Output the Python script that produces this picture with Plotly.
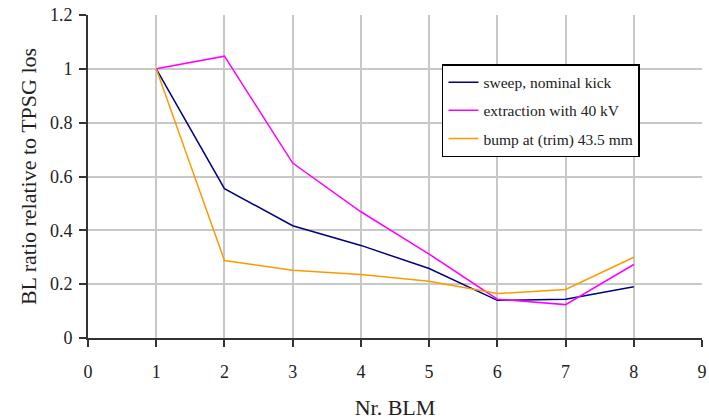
import plotly.graph_objects as go

blm = [1, 2, 3, 4, 5, 6, 7, 8]
sweep_nominal = [1.0, 0.555, 0.417, 0.344, 0.258, 0.140, 0.144, 0.190]
extraction_40kv = [1.0, 1.047, 0.650, 0.469, 0.312, 0.144, 0.124, 0.273]
bump_trim = [1.0, 0.288, 0.252, 0.236, 0.211, 0.165, 0.180, 0.300]

names = ["sweep, nominal kick", "extraction with 40 kV", "bump at (trim) 43.5 mm"]
colors = ["#000080", "#FF00FF", "#FF9900"]
series = [sweep_nominal, extraction_40kv, bump_trim]

FONT = "Liberation Serif"

fig = go.Figure()
for i, (nm, col, ys) in enumerate(zip(names, colors, series)):
    fig.add_trace(go.Scatter(x=blm, y=ys, mode="lines", name=nm,
                             legendgroup=f"g{i}",
                             line=dict(color=col, width=1.5)))

fig.update_layout(
    width=709, height=420,
    margin=dict(l=88, r=7, t=15, b=82, autoexpand=False),
    paper_bgcolor="white", plot_bgcolor="white",
    font=dict(family=FONT, size=18, color="#222"),
    showlegend=True,
    legend=dict(x=0.5765, y=0.848, xanchor="left", yanchor="top",
                bordercolor="black", borderwidth=1.5, bgcolor="white",
                font=dict(family=FONT, size=15.5, color="#222"),
                tracegroupgap=5, itemwidth=30),
)
fig.update_xaxes(range=[0, 9], dtick=1, tick0=0, automargin=False,
                 ticklabeloverflow="allow",
                 showgrid=True, gridcolor="#c8c8c8", gridwidth=1.5,
                 showline=True, linecolor="#333", linewidth=2,
                 ticks="outside", ticklen=7, tickcolor="#333", tickwidth=1.5,
                 ticklabelstandoff=9, zeroline=False,
                 title=dict(text="Nr. BLM", standoff=20))
fig.update_yaxes(range=[0, 1.2], dtick=0.2, tick0=0, automargin=False,
                 ticklabeloverflow="allow",
                 showgrid=True, gridcolor="#c8c8c8", gridwidth=1.5,
                 showline=True, linecolor="#333", linewidth=2,
                 ticks="outside", ticklen=7, tickcolor="#333", tickwidth=1.5,
                 ticklabelstandoff=3, zeroline=False,
                 title=dict(text="BL ratio relative to TPSG los", standoff=7))

# remove the browser's default 8px body margin so the figure fills the window
fig.write_html("out.html", config={"displayModeBar": False},
               post_script="document.body.style.margin='0';")
